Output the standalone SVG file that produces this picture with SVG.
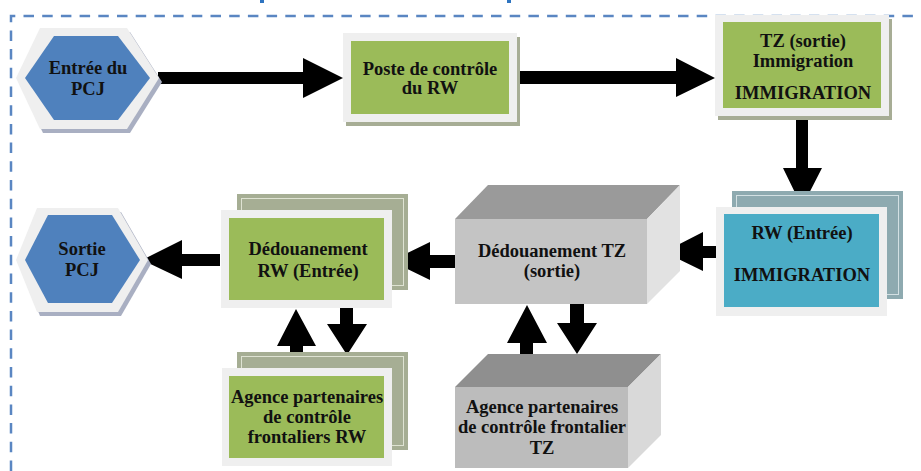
<svg xmlns="http://www.w3.org/2000/svg" width="921" height="471" viewBox="0 0 921 471">
  <defs>
    <style>
      .lbl { font-family: "Liberation Serif", "Times New Roman", serif; font-weight: bold; font-size: 18.5px; fill: #111; text-anchor: middle; }
      .halo { fill: #efefef; }
      .green { fill: #9bbb59; }
      .teal { fill: #4bacc6; }
      .hex { fill: #4f81bd; }
      .hexshadow { fill: #a9afc2; }
      .boxshadow { fill: #a7ad95; }
      .backgreen { fill: #a6ae94; }
      .backteal { fill: #8eaab0; }
      .backline { fill: none; stroke: #dfe3d3; stroke-width: 1; }
      .backline-t { fill: none; stroke: #d3e0e3; stroke-width: 1; }
      .arrow { fill: #000; }
      .frame { fill: none; stroke: #5a86c2; stroke-width: 2.5; stroke-dasharray: 10.5 8.2; }
    </style>
  </defs>

  <rect width="921" height="471" fill="#ffffff"/>

  <!-- dashed frame around the flow -->
  <path class="frame" d="M11,471 L11,16 L921,16"/>
  <rect x="260" y="0" width="4" height="3" fill="#2e74c0"/>
  <rect x="507" y="0" width="4" height="3" fill="#2e74c0"/>

  <!-- connectors -->
  <g id="connectors">
    <polygon class="arrow" points="158,72 303,72 303,58 343,78 303,98 303,84 158,84"/>
    <polygon class="arrow" points="517,71 676,71 676,58 715,78 676,97 676,84 517,84"/>
    <polygon class="arrow" points="796,117 808,117 808,168 822,168 802,207 783,168 796,168"/>
    <polygon class="arrow" points="724,246 703,246 703,232 664,252 703,271 703,258 724,258"/>
    <polygon class="arrow" points="456,255 430,255 430,242 391,261 430,280 430,268 456,268"/>
    <polygon class="arrow" points="220,254 182,254 182,240 142,260 182,279 182,266 220,266"/>
    <polygon class="arrow" points="290,353 290,346 277,346 296,309 316,346 303,346 303,353"/>
    <polygon class="arrow" points="340,308 353,308 353,324 367,324 347,355 327,324 340,324"/>
    <polygon class="arrow" points="520,354 520,343 507,343 527,305 547,343 533,343 533,354"/>
    <polygon class="arrow" points="570,304 584,304 584,323 597,323 577,354 557,323 570,323"/>
  </g>

  <!-- entry hexagon -->
  <g id="entree-pcj">
    <polygon class="hexshadow" points="19,82 43,32 130,32 162,82 130,133 43,133"/>
    <polygon class="halo" points="16,78 40,28 127,28 159,78 127,129 40,129"/>
    <polygon class="hex" points="25,78 54,36 118,36 150,78 118,120 54,120"/>
    <text class="lbl" x="88" y="74">Entrée du</text>
    <text class="lbl" x="88" y="95">PCJ</text>
  </g>

  <!-- RW control post -->
  <g id="poste-rw">
    <rect class="boxshadow" x="346" y="37" width="174" height="89"/>
    <rect class="halo" x="343" y="33" width="174" height="89"/>
    <rect class="green" x="351" y="41" width="158" height="73"/>
    <text class="lbl" x="430" y="75">Poste de contrôle</text>
    <text class="lbl" x="430" y="94">du RW</text>
  </g>

  <!-- TZ exit immigration -->
  <g id="tz-sortie">
    <rect class="boxshadow" x="718" y="19" width="174" height="101"/>
    <rect class="halo" x="715" y="15" width="174" height="101"/>
    <rect class="green" x="723" y="22" width="158" height="86"/>
    <text class="lbl" x="803" y="47">TZ (sortie)</text>
    <text class="lbl" x="803" y="67">Immigration</text>
    <text class="lbl" x="803" y="99">IMMIGRATION</text>
  </g>

  <!-- RW entry immigration -->
  <g id="rw-entree">
    <rect class="backteal" x="732" y="191" width="171" height="108"/>
    <rect class="backline-t" x="736.5" y="195.5" width="162" height="99"/>
    <rect class="halo" x="716" y="207" width="171" height="109"/>
    <rect class="teal" x="724" y="214" width="155" height="93"/>
    <text class="lbl" x="802" y="239">RW (Entrée)</text>
    <text class="lbl" x="802" y="281">IMMIGRATION</text>
  </g>

  <!-- TZ customs clearance (block) -->
  <g id="dedouanement-tz">
    <polygon fill="#9a9a9a" points="455,219 647,219 680,185 488,185"/>
    <polygon fill="#e2e2e2" points="647,219 680,185 680,271 647,304"/>
    <rect x="455" y="219" width="192" height="85" fill="#c4c4c4"/>
    <text class="lbl" x="552" y="257">Dédouanement TZ</text>
    <text class="lbl" x="552" y="277">(sortie)</text>
  </g>

  <!-- RW customs clearance -->
  <g id="dedouanement-rw">
    <rect class="backgreen" x="237" y="194" width="171" height="96"/>
    <rect class="backline" x="241.5" y="198.5" width="162" height="87"/>
    <rect class="halo" x="221" y="210" width="171" height="98"/>
    <rect class="green" x="229" y="218" width="155" height="82"/>
    <text class="lbl" x="308" y="255">Dédouanement</text>
    <text class="lbl" x="308" y="277">RW (Entrée)</text>
  </g>

  <!-- exit hexagon -->
  <g id="sortie-pcj">
    <polygon class="hexshadow" points="19,264 40,212 121,212 151,264 121,316 40,316"/>
    <polygon class="halo" points="16,260 37,208 118,208 148,260 118,312 37,312"/>
    <polygon class="hex" points="25,260 48,215 112,215 140,260 112,303 48,303"/>
    <text class="lbl" x="82" y="255">Sortie</text>
    <text class="lbl" x="82" y="276">PCJ</text>
  </g>

  <!-- RW partner border agencies -->
  <g id="agence-rw">
    <rect class="backgreen" x="237" y="352" width="171" height="98"/>
    <rect class="backline" x="241.5" y="356.5" width="162" height="89"/>
    <rect class="halo" x="222" y="368" width="170" height="98"/>
    <rect class="green" x="229" y="376" width="155" height="82"/>
    <text class="lbl" x="307" y="403">Agence partenaires</text>
    <text class="lbl" x="307" y="423">de contrôle</text>
    <text class="lbl" x="307" y="443">frontaliers RW</text>
  </g>

  <!-- TZ partner border agencies (block) -->
  <g id="agence-tz">
    <polygon fill="#8f8f8f" points="455,387 628,387 661,354 488,354"/>
    <polygon fill="#d9d9d9" points="628,387 661,354 661,435 628,468"/>
    <rect x="455" y="387" width="173" height="81" fill="#bcbcbc"/>
    <text class="lbl" x="542" y="413">Agence partenaires</text>
    <text class="lbl" x="542" y="433">de contrôle frontalier</text>
    <text class="lbl" x="542" y="454">TZ</text>
  </g>
</svg>
